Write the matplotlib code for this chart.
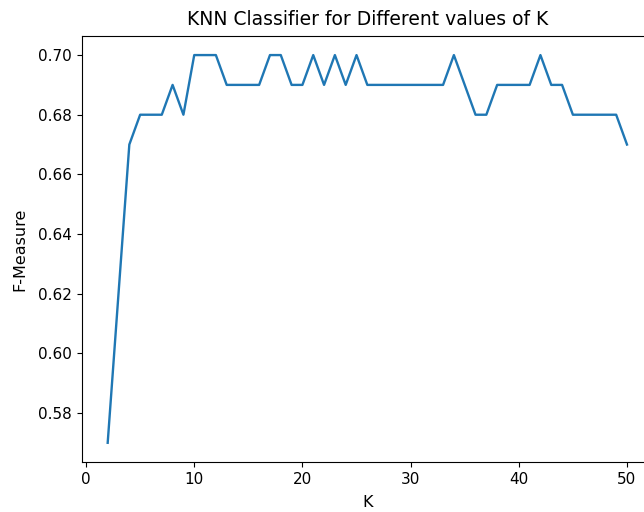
import matplotlib
matplotlib.use("Agg")
import matplotlib.pyplot as plt

k_values = list(range(2, 51))
f_measure = [
    0.57, 0.62, 0.67, 0.68, 0.68, 0.68, 0.69, 0.68, 0.70, 0.70,   # K=2..11
    0.70, 0.69, 0.69, 0.69, 0.69, 0.70, 0.70, 0.69, 0.69, 0.70,   # K=12..21
    0.69, 0.70, 0.69, 0.70, 0.69, 0.69, 0.69, 0.69, 0.69, 0.69,   # K=22..31
    0.69, 0.69, 0.70, 0.69, 0.68, 0.68, 0.69, 0.69, 0.69, 0.69,   # K=32..41
    0.70, 0.69, 0.69, 0.68, 0.68, 0.68, 0.68, 0.68, 0.67,         # K=42..50
]

fig = plt.figure(figsize=(6.44, 5.12), dpi=100)
ax = fig.add_axes([0.1269, 0.0973, 0.887, 0.833])
ax.plot(k_values, f_measure, linewidth=1.7)
ax.set_title("KNN Classifier for Different values of K", fontsize=13.5, pad=8)
ax.set_xlabel("K", fontsize=11.5, labelpad=6)
ax.set_ylabel("F-Measure", fontsize=11.5, labelpad=8)
ax.tick_params(labelsize=11)
fig.savefig("out.png", dpi=100)
